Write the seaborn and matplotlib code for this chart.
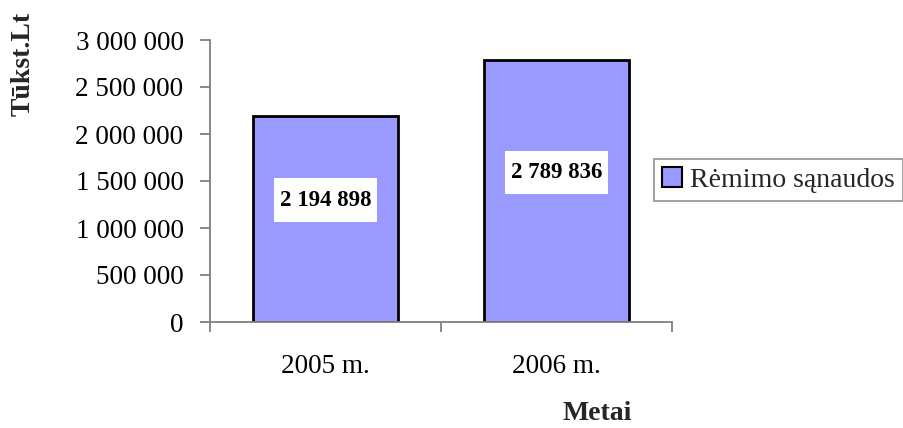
import matplotlib
matplotlib.use("Agg")
import matplotlib.pyplot as plt
import matplotlib.ticker as mticker
from matplotlib.path import Path
import seaborn as sns
import pandas as pd

# Chart data
years = ["2005 m.", "2006 m."]
spending = [2194898, 2789836]
value_labels = ["2 194 898", "2 789 836"]
series_name = "Rėmimo sąnaudos"
y_ticks = [0, 500000, 1000000, 1500000, 2000000, 2500000, 3000000]

df = pd.DataFrame({"Metai": years, "Suma": spending})

sns.set_theme(style="white")
plt.rcParams["font.family"] = ["Liberation Serif", "DejaVu Serif"]

W, H = 904, 428
fig = plt.figure(figsize=(W / 100, H / 100), dpi=100)
ax = fig.add_axes([210 / W, 1 - 322 / H, (672 - 210) / W, (322 - 40) / H])

bar_color = "#9999FF"
sns.barplot(data=df, x="Metai", y="Suma", ax=ax, color=bar_color,
            width=0.63, edgecolor="black", linewidth=2, saturation=1,
            label=series_name, legend=False)
if ax.get_legend() is not None:
    ax.get_legend().remove()

ax.set_xlim(-0.5, 1.5)
ax.set_ylim(0, 3000000)
ax.set_yticks(y_ticks)
ax.yaxis.set_major_formatter(
    mticker.FuncFormatter(lambda v, p: f"{int(v):,}".replace(",", " ")))
ax.set_xticks([0, 1])
ax.set_xticklabels(years)
ax.set_xticks([-0.5, 0.5, 1.5], minor=True)

axis_grey = "#808080"
for side in ["top", "right"]:
    ax.spines[side].set_visible(False)
for side in ["left", "bottom"]:
    ax.spines[side].set_color(axis_grey)
    ax.spines[side].set_linewidth(1.3)

ax.tick_params(axis="y", which="major", direction="out", length=7, width=1.3,
               color=axis_grey, labelsize=19.5, labelcolor="black", pad=12,
               left=True)
ax.tick_params(axis="x", which="major", length=0, labelsize=19.5,
               labelcolor="black", pad=23)
ax.tick_params(axis="x", which="minor", direction="out", length=7,
               width=1.3, color=axis_grey, bottom=True)
ax.set_xlabel("")
ax.set_ylabel("")


def label_box(x0, y0, width, height, mutation_size):
    """Rectangle with a small side margin and a taller top/bottom margin."""
    px = 0.25 * mutation_size
    py = 0.5 * mutation_size
    x1, y1 = x0 - px, y0 - py
    x2, y2 = x0 + width + px, y0 + height + py
    return Path([(x1, y1), (x2, y1), (x2, y2), (x1, y2), (x1, y1)],
                closed=True)


# Value labels on white boxes inside the bars
label_frac = [0.591, 0.570]
for i, (v, txt) in enumerate(zip(spending, value_labels)):
    ax.text(i, v * label_frac[i], txt, ha="center", va="center",
            fontsize=16.5, fontweight="bold", color="black",
            bbox=dict(boxstyle=label_box, facecolor="white",
                      edgecolor="none"))

fig.text(23 / W, 1 - 64 / H, "Tūkst.Lt", rotation=90, ha="center",
         va="center", fontsize=20, fontweight="bold")
fig.text(597 / W, 1 - 414 / H, "Metai", ha="center", va="center",
         fontsize=20, fontweight="bold")

handles, labels = ax.get_legend_handles_labels()
leg = fig.legend(handles[:1], labels[:1], loc="upper left",
                 bbox_to_anchor=(654 / W, 1 - 159 / H), fontsize=20,
                 frameon=True, fancybox=False, handlelength=0.72,
                 handleheight=0.72, handletextpad=0.29, borderpad=0.3,
                 borderaxespad=0)
leg.get_frame().set_edgecolor(axis_grey)
leg.get_frame().set_linewidth(1.3)
for h in leg.legend_handles:
    h.set_linewidth(1.5)

fig.savefig("out.png", dpi=100)
